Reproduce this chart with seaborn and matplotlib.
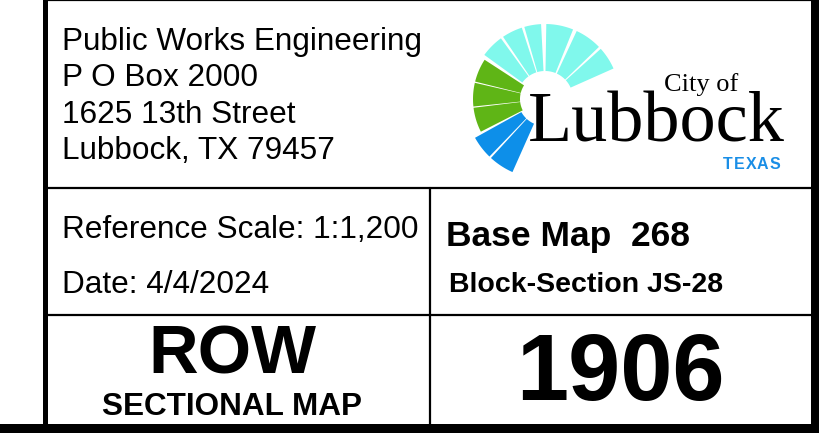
import numpy as np
import seaborn as sns
import matplotlib.pyplot as plt
from matplotlib.patches import Rectangle

# Title block text
address_lines = ['Public Works Engineering', 'P O Box 2000', '1625 13th Street', 'Lubbock, TX 79457']
scale_text = 'Reference Scale: 1:1,200'
date_text = 'Date: 4/4/2024'
base_map_text = 'Base Map  268'
block_text = 'Block-Section JS-28'
row_text = 'ROW'
sectional_text = 'SECTIONAL MAP'
map_number = '1906'

# Logo pieces (angle ranges in degrees)
cyan_blades = [(126, 144), (108, 124), (93, 106), (68, 89), (44, 65), (24, 42)]
green_blades = [(147, 166), (167, 186), (187, 207)]
blue_blades = [(209, 226), (227.5, 246)]
texas_letters = ['T', 'E', 'X', 'A', 'S']

sns.set_theme(style='white')
plt.rcParams['font.family'] = ['Liberation Sans', 'DejaVu Sans']
plt.rcParams['text.color'] = 'black'

fig = plt.figure(figsize=(8.30, 4.39), dpi=100)
ax = fig.add_axes([0, 0, 1, 1])
ax.set_xlim(0, 830)
ax.set_ylim(439, 0)
ax.axis('off')

# frame
ax.add_patch(Rectangle((43, 0), 5, 430, color='black', lw=0))
ax.add_patch(Rectangle((811, 0), 8, 434, color='black', lw=0))
ax.add_patch(Rectangle((0, 425), 819, 9, color='black', lw=0))
ax.plot([48, 811], [1, 1], color='black', lw=1.6)
ax.plot([48, 811], [189, 189], color='black', lw=1.6)
ax.plot([48, 811], [315.5, 315.5], color='black', lw=1.6)
ax.plot([429.5, 429.5], [189, 425], color='black', lw=1.6)

# address
for i, line in enumerate(address_lines):
    ax.text(62, 50 + i * 36.3, line, fontsize=22.7, va='baseline', ha='left')

ax.text(62, 238, scale_text, fontsize=22.7, va='baseline', ha='left')
ax.text(62, 293, date_text, fontsize=22.7, va='baseline', ha='left')
ax.text(446, 246, base_map_text, fontsize=25.5, fontweight='bold', va='baseline', ha='left')
ax.text(449, 292, block_text, fontsize=20.5, fontweight='bold', va='baseline', ha='left')
ax.text(232, 374, row_text, fontsize=49.5, fontweight='bold', va='baseline', ha='center')
ax.text(232, 415, sectional_text, fontsize=22.7, fontweight='bold', va='baseline', ha='center')
ax.text(620, 400, map_number, fontsize=67.5, fontweight='bold', va='baseline', ha='center')

# logo fan
cx, cy = 545, 100


def blade(a0, a1, r0, r1, color):
    t = np.radians(np.linspace(a0, a1, 20))
    xs = np.concatenate([cx + r1 * np.cos(t), cx + r0 * np.cos(t[::-1])])
    ys = np.concatenate([cy - r1 * np.sin(t), cy - r0 * np.sin(t[::-1])])
    ax.fill(xs, ys, color=color, lw=0)


for a0, a1 in cyan_blades:
    blade(a0, a1, 28, 75, '#80f8ec')
for a0, a1 in green_blades:
    blade(a0, a1, 25, 72, '#5fb516')
for a0, a1 in blue_blades:
    blade(a0, a1, 27, 80, '#0d8fe9')

ax.text(701, 91, 'City of', fontsize=19, family=['Liberation Serif', 'DejaVu Serif'],
        va='baseline', ha='center')
ax.text(656, 142, 'Lubbock', fontsize=52, family=['Liberation Serif', 'DejaVu Serif'],
        va='baseline', ha='center')
for i, ch in enumerate(texas_letters):
    ax.text(728 + i * 11.6, 169, ch, fontsize=11.5, fontweight='bold', color='#1a8ee6',
            va='baseline', ha='center')

fig.savefig('out.png', dpi=100)
